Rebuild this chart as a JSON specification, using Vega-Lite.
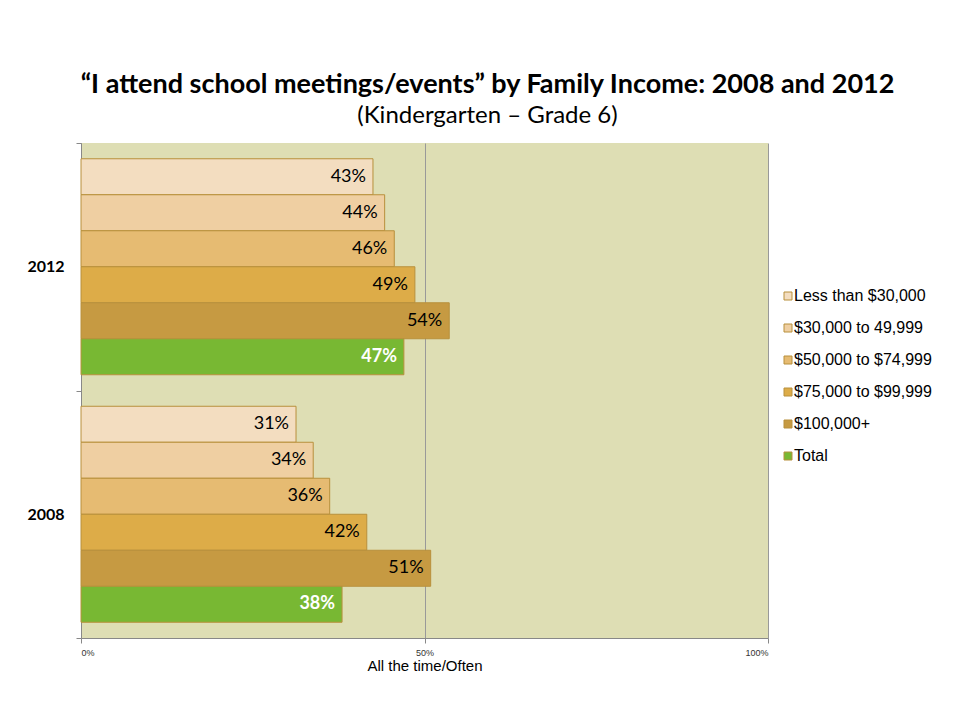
{
  "$schema": "https://vega.github.io/schema/vega-lite/v6.json",
  "width": 687,
  "height": 495,
  "autosize": {"type": "none"},
  "padding": {"left": 81, "top": 143, "right": 188, "bottom": 83},
  "background": "white",
  "title": {
    "text": "“I attend school meetings/events” by Family Income: 2008 and 2012",
    "subtitle": "(Kindergarten – Grade 6)",
    "anchor": "middle",
    "frame": "group",
    "dx": 63,
    "offset": 6,
    "font": "Lato",
    "fontSize": 27,
    "fontWeight": "bold",
    "color": "black",
    "subtitleFont": "Lato",
    "subtitleFontSize": 24,
    "subtitleColor": "black",
    "subtitlePadding": 5
  },
  "data": {
    "values": [
      {"year": "2012", "group": "Less than $30,000", "value": 0.425, "label": "43%"},
      {"year": "2012", "group": "$30,000 to 49,999", "value": 0.442, "label": "44%"},
      {"year": "2012", "group": "$50,000 to $74,999", "value": 0.456, "label": "46%"},
      {"year": "2012", "group": "$75,000 to $99,999", "value": 0.486, "label": "49%"},
      {"year": "2012", "group": "$100,000+", "value": 0.536, "label": "54%"},
      {"year": "2012", "group": "Total", "value": 0.470, "label": "47%"},
      {"year": "2008", "group": "Less than $30,000", "value": 0.313, "label": "31%"},
      {"year": "2008", "group": "$30,000 to 49,999", "value": 0.338, "label": "34%"},
      {"year": "2008", "group": "$50,000 to $74,999", "value": 0.362, "label": "36%"},
      {"year": "2008", "group": "$75,000 to $99,999", "value": 0.416, "label": "42%"},
      {"year": "2008", "group": "$100,000+", "value": 0.509, "label": "51%"},
      {"year": "2008", "group": "Total", "value": 0.380, "label": "38%"}
    ]
  },
  "encoding": {
    "y": {
      "field": "year",
      "type": "nominal",
      "sort": ["2012", "2008"],
      "scale": {"paddingInner": 0, "paddingOuter": 0},
      "axis": {
        "title": null,
        "tickBand": "extent",
        "labelFont": "Lato",
        "labelFontSize": 16,
        "labelFontWeight": "bold",
        "labelColor": "black",
        "labelPadding": 12,
        "tickSize": 5,
        "tickColor": "#888888",
        "domainColor": "#888888"
      }
    },
    "yOffset": {
      "field": "group",
      "type": "nominal",
      "scale": {
        "domain": ["Less than $30,000", "$30,000 to 49,999", "$50,000 to $74,999", "$75,000 to $99,999", "$100,000+", "Total"],
        "paddingInner": 0,
        "paddingOuter": 0.4375
      }
    },
    "x": {
      "field": "value",
      "type": "quantitative",
      "scale": {"domain": [0, 1]},
      "axis": {
        "title": "All the time/Often",
        "values": [0, 0.5, 1],
        "format": ".0%",
        "labelFont": "Liberation Sans",
        "labelFontSize": 9,
        "labelColor": "#333333",
        "labelPadding": 5,
        "titleFont": "Liberation Sans",
        "titleFontSize": 15,
        "titleFontWeight": "normal",
        "titleColor": "black",
        "titlePadding": 1,
        "tickColor": "#888888",
        "domainColor": "#888888",
        "gridColor": "#999999",
        "gridOpacity": 1,
        "grid": true
      }
    }
  },
  "layer": [
    {
      "mark": {"type": "bar", "stroke": "#B8903C", "strokeWidth": 1},
      "encoding": {
        "color": {
          "field": "group",
          "type": "nominal",
          "scale": {
            "domain": ["Less than $30,000", "$30,000 to 49,999", "$50,000 to $74,999", "$75,000 to $99,999", "$100,000+", "Total"],
            "range": ["#F3DDC0", "#EFCFA2", "#E6BB72", "#DDAC48", "#C69A42", "#78B833"]
          },
          "legend": {
            "title": null,
            "orient": "none",
            "legendX": 699,
            "legendY": 145,
            "symbolType": "square",
            "symbolSize": 64,
            "symbolStrokeColor": "#B8903C",
            "symbolStrokeWidth": 1,
            "labelFont": "Liberation Sans",
            "labelFontSize": 16,
            "labelColor": "black",
            "labelOffset": -2,
            "rowPadding": 16
          }
        }
      }
    },
    {
      "transform": [{"filter": "datum.group !== 'Total'"}],
      "mark": {"type": "text", "align": "right", "dx": -7, "font": "Lato", "fontSize": 18, "color": "black"},
      "encoding": {"text": {"field": "label"}}
    },
    {
      "transform": [{"filter": "datum.group === 'Total'"}],
      "mark": {"type": "text", "align": "right", "dx": -7, "font": "Lato", "fontSize": 18, "fontWeight": "bold", "color": "white"},
      "encoding": {"text": {"field": "label"}}
    }
  ],
  "config": {
    "view": {"fill": "#DEDEB4", "stroke": null}
  }
}
